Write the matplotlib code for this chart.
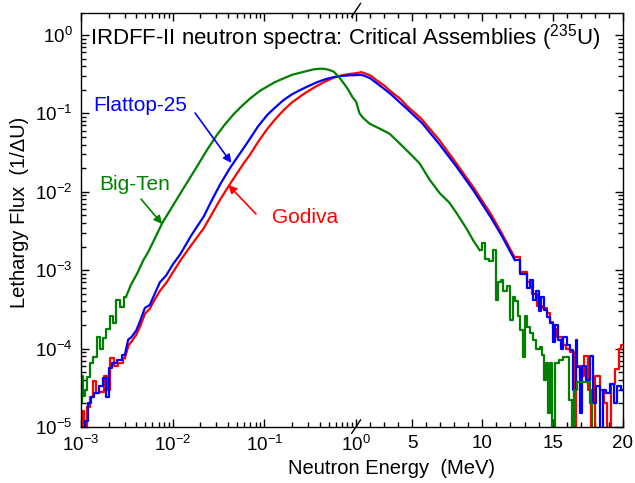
import numpy as np
import matplotlib.pyplot as plt
from matplotlib.ticker import FixedLocator, FixedFormatter, LogLocator, NullFormatter

plt.rcParams['font.family'] = ['Liberation Sans', 'DejaVu Sans']
plt.rcParams['mathtext.fontset'] = 'custom'
plt.rcParams['mathtext.rm'] = 'Liberation Sans'
plt.rcParams['mathtext.it'] = 'Liberation Sans:italic'

# Godiva (red)
godiva_e = [1.0e-3, 1.03e-3, 1.1e-3, 1.2e-3, 1.3e-3, 1.42e-3, 1.5e-3, 1.67e-3, 1.85e-3, 2.0e-3,
            2.15e-3, 2.4e-3, 2.7e-3, 3.0e-3, 3.3e-3, 3.6e-3, 4.0e-3, 4.4e-3, 5.0e-3, 5.6e-3,
            6.2e-3, 7.3e-3, 8.6e-3, 0.0101, 0.0125, 0.016, 0.0217, 0.027, 0.033, 0.042,
            0.0593, 0.070, 0.085, 0.107, 0.13, 0.162, 0.2, 0.247, 0.3, 0.377,
            0.46, 0.57, 0.7, 0.85, 1.0, 1.2, 1.36, 1.6, 2.07, 2.5,
            3.02, 3.4, 4.2, 4.6, 5.5, 5.7, 6.95, 8.14, 9.34, 10.6,
            11.4, 12.3, 13.0, 13.3, 13.74, 14.1, 14.45, 14.7, 14.93, 15.2,
            15.5, 15.8, 16.1, 16.4, 16.6, 16.8, 17.1, 17.4, 17.6, 17.9,
            18.2, 18.5, 18.8, 19.0, 19.3, 19.6, 19.8, 20.0]
godiva_flux = [8e-6, 1.6e-5, 1.0e-5, 1.8e-5, 2.4e-5, 3.9e-5, 2.7e-5, 2.8e-5, 4.5e-5, 3.0e-5,
               7.5e-5, 6.0e-5, 6.6e-5, 7.5e-5, 1.1e-4, 1.25e-4, 1.5e-4, 1.9e-4, 2.8e-4, 3.2e-4,
               4.0e-4, 5.5e-4, 7.0e-4, 9.5e-4, 1.4e-3, 2.1e-3, 3.4e-3, 5.3e-3, 8.0e-3, 0.0125,
               0.023, 0.030, 0.043, 0.063, 0.083, 0.11, 0.138, 0.165, 0.192, 0.225,
               0.255, 0.285, 0.305, 0.318, 0.325, 0.33, 0.335, 0.325, 0.30, 0.26,
               0.225, 0.195, 0.15, 0.125, 0.090, 0.083, 0.045, 0.023, 0.0115, 0.0052,
               0.0029, 1.45e-3, 9.5e-4, 7.0e-4, 5.0e-4, 3.5e-4, 3.3e-4, 2.8e-4, 2.2e-4, 1.8e-4,
               1.4e-4, 1.1e-4, 1.0e-4, 9.0e-5, 8e-6, 6.0e-5, 4.5e-5, 8.0e-5, 3.0e-5, 8e-6,
               4.5e-5, 3.0e-5, 2.0e-5, 8e-6, 3.5e-5, 5.5e-5, 1.0e-4, 1.1e-4]

# Flattop-25 (blue)
flattop_e = [1.05e-3, 1.14e-3, 1.24e-3, 1.30e-3, 1.47e-3, 1.67e-3, 1.82e-3, 1.97e-3, 2.06e-3, 2.34e-3,
             2.65e-3, 3.0e-3, 3.27e-3, 3.55e-3, 4.0e-3, 4.38e-3, 4.97e-3, 5.63e-3, 6.17e-3, 7.24e-3,
             8.5e-3, 0.0101, 0.0121, 0.016, 0.0217, 0.027, 0.033, 0.042, 0.0593, 0.070,
             0.085, 0.107, 0.13, 0.162, 0.2, 0.247, 0.3, 0.377, 0.46, 0.57,
             0.7, 0.85, 1.0, 1.36, 1.6, 2.0, 2.5, 3.4, 4.6, 5.7,
             6.95, 8.14, 9.34, 10.6, 11.4, 12.3, 13.0, 13.3, 13.5, 13.74,
             13.9, 14.1, 14.3, 14.45, 14.7, 14.93, 15.1, 15.3, 15.5, 15.64,
             15.9, 16.1, 16.36, 16.6, 16.7, 16.84, 17.0, 17.2, 17.55, 17.8,
             17.95, 18.26, 18.5, 18.7, 18.98, 19.2, 19.5, 19.7, 20.0]
flattop_flux = [9e-6, 1.2e-5, 2.0e-5, 2.4e-5, 2.7e-5, 3.3e-5, 4.2e-5, 2.4e-5, 5.6e-5, 6.5e-5,
                7.2e-5, 8.3e-5, 1.3e-4, 1.4e-4, 1.7e-4, 2.2e-4, 3.3e-4, 3.6e-4, 4.6e-4, 7.0e-4,
                8.6e-4, 1.2e-3, 1.6e-3, 2.8e-3, 4.8e-3, 8.0e-3, 0.0125, 0.020, 0.036, 0.048,
                0.068, 0.095, 0.118, 0.148, 0.175, 0.199, 0.222, 0.25, 0.272, 0.29,
                0.30, 0.305, 0.307, 0.31, 0.30, 0.28, 0.24, 0.18, 0.115, 0.075,
                0.040, 0.021, 0.0105, 0.0047, 0.0027, 1.35e-3, 9.0e-4, 6.0e-4, 7.5e-4, 4.2e-4,
                5.5e-4, 3.0e-4, 4.5e-4, 3.1e-4, 2.5e-4, 2.1e-4, 1.2e-4, 2.0e-4, 1.3e-4, 1.0e-4,
                1.4e-4, 1.1e-4, 9.6e-5, 3.0e-5, 1.3e-4, 5.9e-5, 1.5e-5, 6.0e-5, 4.0e-5, 8.0e-5,
                2.0e-5, 3.3e-5, 8e-6, 3.0e-5, 2.7e-5, 3.5e-5, 2.0e-5, 3.3e-5, 3.0e-5]

# Big-Ten (green)
bigten_e = [1.0e-3, 1.03e-3, 1.08e-3, 1.14e-3, 1.2e-3, 1.3e-3, 1.4e-3, 1.55e-3, 1.65e-3, 1.8e-3,
            1.98e-3, 2.15e-3, 2.3e-3, 2.54e-3, 2.75e-3, 3.1e-3, 3.5e-3, 4.1e-3, 4.8e-3, 5.4e-3,
            7.7e-3, 0.0121, 0.0184, 0.0236, 0.030, 0.037, 0.046, 0.055, 0.070, 0.09,
            0.107, 0.13, 0.163, 0.2, 0.247, 0.3, 0.346, 0.40, 0.445, 0.50,
            0.57, 0.65, 0.735, 0.82, 0.908, 1.0, 1.24, 1.48, 1.95, 2.66,
            3.38, 4.09, 4.81, 5.52, 6.24, 6.95, 7.66, 8.14, 8.86, 9.34,
            9.8, 10.1, 10.3, 10.6, 10.9, 11.0, 11.2, 11.4, 11.6, 11.84,
            12.07, 12.25, 12.43, 12.6, 12.79, 12.98, 13.1, 13.26, 13.5, 13.74,
            13.95, 14.2, 14.3, 14.45, 14.6, 14.75, 14.9, 15.05, 15.3, 15.64,
            15.88, 16.1, 16.3, 16.4, 16.6, 16.86, 17.2, 17.57, 17.7, 17.9]
bigten_flux = [2.0e-5, 4.5e-5, 2.5e-5, 3.0e-5, 4.4e-5, 6.6e-5, 7.9e-5, 1.4e-4, 1.0e-4, 1.35e-4,
               1.8e-4, 2.6e-4, 2.1e-4, 4.2e-4, 3.4e-4, 4.6e-4, 6.5e-4, 9.1e-4, 1.35e-3, 1.7e-3,
               4.0e-3, 9.5e-3, 0.021, 0.034, 0.052, 0.072, 0.097, 0.12, 0.155, 0.195,
               0.219, 0.25, 0.28, 0.31, 0.33, 0.35, 0.364, 0.37, 0.37, 0.36,
               0.34, 0.29, 0.24, 0.20, 0.162, 0.14, 0.10, 0.088, 0.074, 0.064,
               0.055, 0.0415, 0.031, 0.023, 0.0142, 0.0096, 0.0072, 0.0054, 0.0034, 0.0024,
               0.0018, 0.0022, 0.0014, 0.0013, 0.0018, 4.2e-4, 7.0e-4, 7.5e-4, 5.5e-4, 6.2e-4,
               2.3e-4, 4.6e-4, 4.0e-4, 2.6e-4, 1.7e-4, 7.9e-5, 2.6e-4, 1.9e-4, 1.6e-4, 1.3e-4,
               1.0e-4, 1.05e-4, 8.3e-5, 4.0e-5, 6.5e-5, 1.5e-5, 6.5e-5, 8e-6, 6.5e-5, 7.2e-5,
               7.9e-5, 7.9e-5, 2.2e-5, 8e-6, 3.0e-5, 3.8e-5, 3.8e-5, 3.8e-5, 2.0e-5, 8e-6]

# log below 1 MeV, linear above
K = 14.0 / 91.5


def fwd(x):
    x = np.asarray(x, dtype=float)
    with np.errstate(divide='ignore', invalid='ignore'):
        return np.where(x <= 1, np.log10(x), (x - 1) * K)


def inv(u):
    u = np.asarray(u, dtype=float)
    with np.errstate(over='ignore'):
        return np.where(u <= 0, 10.0 ** u, 1 + u / K)


def draw(ax, e, f, color, lo, hi):
    # noisy ends as histogram steps, smooth middle as a line
    e = np.asarray(e)
    f = np.asarray(f)
    i = int(np.searchsorted(e, lo))
    j = int(np.searchsorted(e, hi))
    kw = dict(color=color, lw=1.6)
    ax.step(e[:i + 1], f[:i + 1], where='mid', **kw)
    ax.plot(e[i:j + 1], f[i:j + 1], **kw)
    ax.step(e[j:], f[j:], where='mid', **kw)


fig = plt.figure(figsize=(6.35, 4.83), dpi=100)
ax = fig.add_axes([0.1276, 0.1160, 0.8531, 0.8577])
ax.set_xscale('function', functions=(fwd, inv))
ax.set_yscale('log')

draw(ax, godiva_e, godiva_flux, '#ff0000', 3.0e-3, 12.3)
draw(ax, flattop_e, flattop_flux, '#0000ff', 3.0e-3, 12.3)
draw(ax, bigten_e, bigten_flux, '#008000', 3.1e-3, 9.8)

ax.set_xlim(1e-3, 20)
ax.set_ylim(1e-5, 1.92)

# ticks
xmaj = [1e-3, 1e-2, 1e-1, 1, 5, 10, 15, 20]
xlab = ['$10^{-3}$', '$10^{-2}$', '$10^{-1}$', '$10^{0}$', '5', '10', '15', '20']
xmin = [m * 10.0 ** d for d in (-3, -2, -1) for m in range(2, 10)]
xmin += [v for v in range(2, 20) if v % 5 != 0]
ax.xaxis.set_major_locator(FixedLocator(xmaj))
ax.xaxis.set_major_formatter(FixedFormatter(xlab))
ax.xaxis.set_minor_locator(FixedLocator(xmin))
ax.xaxis.set_minor_formatter(NullFormatter())

ymaj = [10.0 ** d for d in range(-5, 1)]
ax.yaxis.set_major_locator(FixedLocator(ymaj))
ax.yaxis.set_major_formatter(FixedFormatter(['$10^{%d}$' % d for d in range(-5, 1)]))
ax.yaxis.set_minor_locator(LogLocator(base=10, subs=np.arange(2, 10), numticks=20))
ax.yaxis.set_minor_formatter(NullFormatter())

ax.tick_params(which='both', direction='in', top=True, right=True, labelsize=13.5, width=1)
ax.tick_params(which='major', length=6)
ax.tick_params(which='minor', length=3.5)
ax.tick_params(axis='x', pad=6)
ax.tick_params(axis='y', pad=6)
for s in ax.spines.values():
    s.set_linewidth(1.0)

# axis break marks at 1 MeV
for y0, y1 in ((-0.0152, 0.0169), (0.9904, 1.0225)):
    ax.plot([0.4997, 0.5160], [y0, y1], color='black', lw=1.0,
            transform=ax.transAxes, clip_on=False)

fig.text(392 / 635, 1 - 468 / 483, 'Neutron Energy  (MeV)', fontsize=14.5,
         ha='center', va='center')
fig.text(20 / 635, 1 - 212 / 483, 'Lethargy Flux  (1/\u0394U)', fontsize=14.5,
         ha='center', va='center', rotation=90)

ax.text(0.0166, 0.940, r'IRDFF-II neutron spectra: Critical Assemblies ($^{235}$U)',
        transform=ax.transAxes, fontsize=16, ha='left', va='center')

# labels with arrows
arrow = dict(arrowstyle='-|>', lw=1.2, mutation_scale=12, shrinkA=0, shrinkB=0)
ax.text(0.0222, 0.777, 'Flattop-25', color='#0000ff', fontsize=15,
        transform=ax.transAxes, ha='left', va='center')
ax.annotate('', xy=(0.0436, 0.0233), xycoords='data', xytext=(0.2105, 0.758),
            textcoords='axes fraction', arrowprops=dict(arrow, color='#0000ff'))
ax.text(0.0335, 0.5865, 'Big-Ten', color='#008000', fontsize=15,
        transform=ax.transAxes, ha='left', va='center')
ax.annotate('', xy=(7.68e-3, 3.88e-3), xycoords='data', xytext=(0.1108, 0.550),
            textcoords='axes fraction', arrowprops=dict(arrow, color='#008000'))
ax.text(0.352, 0.5045, 'Godiva', color='#ff0000', fontsize=15,
        transform=ax.transAxes, ha='left', va='center')
ax.annotate('', xy=(0.0404, 0.0122), xycoords='data', xytext=(0.323, 0.514),
            textcoords='axes fraction', arrowprops=dict(arrow, color='#ff0000'))

fig.savefig('out.png', dpi=100)
